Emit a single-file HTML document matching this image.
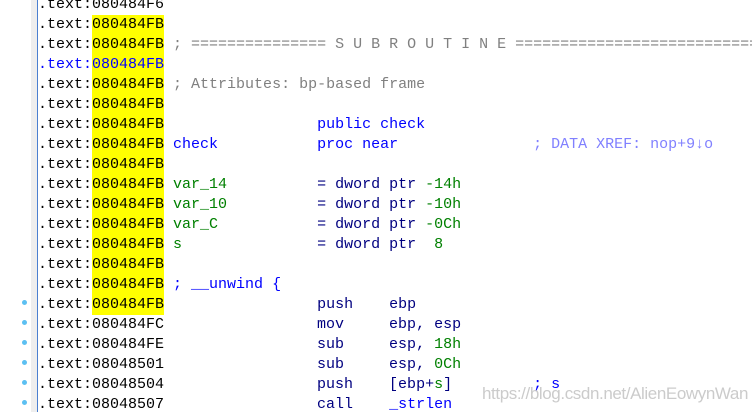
<!DOCTYPE html>
<html><head><meta charset="utf-8"><style>
html,body{margin:0;padding:0;background:#fff;width:752px;height:412px;overflow:hidden;position:relative}
.g{position:absolute;left:31px;top:0;width:6px;height:412px;background:#eeeeee}
.b{position:absolute;left:37px;top:0;width:1px;height:412px;background:#4a7fd0}
.d{position:absolute;left:22px;width:5px;height:5px;border-radius:50%;background:#5cc0f2}
pre{position:absolute;left:38px;top:-5px;width:714px;overflow:hidden;margin:0;font:15px/20px "Liberation Mono",monospace;color:#000;white-space:pre}
.y{background:#ffff00;display:inline-block;height:20px;vertical-align:top}
.c{color:#808080}.bl{color:#0000ff}.n{color:#000080}.gr{color:#008000}.x{color:#8080ff}
.w{position:absolute;left:482px;top:384px;font:17px "Liberation Sans",sans-serif;color:rgba(160,160,160,0.55);letter-spacing:-0.4px;white-space:nowrap}
</style></head><body>
<div class="g"></div><div class="b"></div>
<div class="d" style="top:300px"></div>
<div class="d" style="top:320px"></div>
<div class="d" style="top:340px"></div>
<div class="d" style="top:360px"></div>
<div class="d" style="top:380px"></div>
<div class="d" style="top:400px"></div>
<pre>.text:080484F6
.text:<span class="y">080484FB</span>
.text:<span class="y">080484FB</span> <span class="c">; =============== S U B R O U T I N E =========================================</span>
<span class="bl">.text:</span><span class="y bl">080484FB</span>
.text:<span class="y">080484FB</span> <span class="c">; Attributes: bp-based frame</span>
.text:<span class="y">080484FB</span>
.text:<span class="y">080484FB</span>                 <span class="bl">public check</span>
.text:<span class="y">080484FB</span> <span class="bl">check</span>           <span class="bl">proc near</span>               <span class="x">; DATA XREF: nop+9↓o</span>
.text:<span class="y">080484FB</span>
.text:<span class="y">080484FB</span> <span class="gr">var_14</span>          <span class="n">= dword ptr</span> <span class="gr">-14h</span>
.text:<span class="y">080484FB</span> <span class="gr">var_10</span>          <span class="n">= dword ptr</span> <span class="gr">-10h</span>
.text:<span class="y">080484FB</span> <span class="gr">var_C</span>           <span class="n">= dword ptr</span> <span class="gr">-0Ch</span>
.text:<span class="y">080484FB</span> <span class="gr">s</span>               <span class="n">= dword ptr</span>  <span class="gr">8</span>
.text:<span class="y">080484FB</span>
.text:<span class="y">080484FB</span> <span class="bl">; __unwind {</span>
.text:<span class="y">080484FB</span>                 <span class="n">push    ebp</span>
.text:080484FC                 <span class="n">mov     ebp, esp</span>
.text:080484FE                 <span class="n">sub     esp, </span><span class="gr">18h</span>
.text:08048501                 <span class="n">sub     esp, </span><span class="gr">0Ch</span>
.text:08048504                 <span class="n">push    [ebp+</span><span class="gr">s</span><span class="n">]</span>         <span class="bl">; s</span>
.text:08048507                 <span class="n">call    </span><span class="bl">_strlen</span>
</pre>
<div class="w">https://blog.csdn.net/AlienEowynWan</div>
</body></html>
